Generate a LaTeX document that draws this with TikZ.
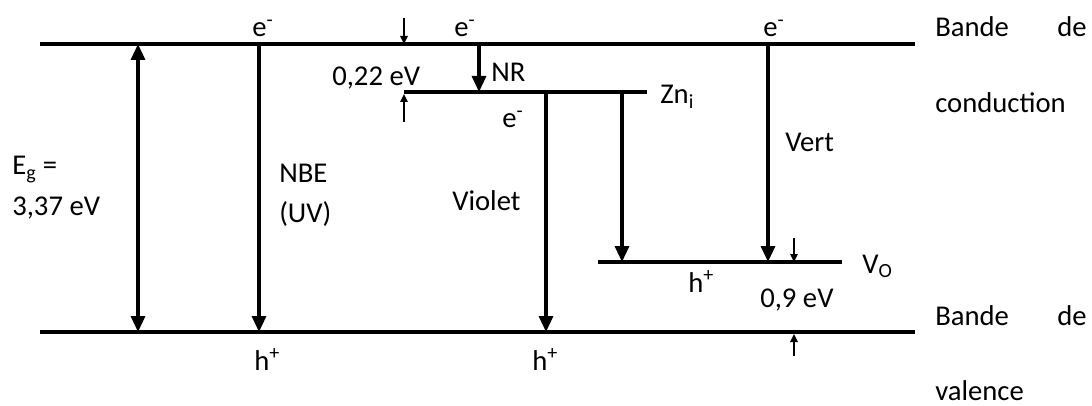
\documentclass[tikz,border=0pt]{standalone}
\usepackage{fontspec}
\setmainfont{Carlito}
\usetikzlibrary{arrows.meta,positioning}

\begin{document}
\begin{tikzpicture}[x=0.75pt,y=-0.75pt,
    band/.style={line width=2.4pt},
    trans/.style={line width=2.4pt,-{Triangle[length=12pt,width=10.5pt]}},
    gap/.style={line width=2.4pt,{Triangle[length=12pt,width=10.5pt]}-{Triangle[length=12pt,width=10.5pt]}},
    tick/.style={line width=1.5pt,-{Triangle[length=6pt,width=5.5pt]}},
    lbl/.style={inner sep=0pt,anchor=base west,font=\fontsize{21.5}{26}\selectfont}]
  \useasboundingbox (0,0) rectangle (1092,406);
  % bandes
  \coordinate (cbL) at (40,44);  \coordinate (cbR) at (915,44);
  \coordinate (vbL) at (40,332); \coordinate (vbR) at (915,332);
  \draw[band] (cbL) -- (cbR);
  \draw[band] (vbL) -- (vbR);
  % niveaux Zn_i et V_O
  \coordinate (znL) at (404,92);  \coordinate (znR) at (647,92);
  \coordinate (voL) at (598,262); \coordinate (voR) at (842,262);
  \draw[band] (znL) -- (znR);
  \draw[band] (voL) -- (voR);
  % transitions
  \coordinate (egT) at (138,44);  \coordinate (egB) at (egT |- vbL);
  \coordinate (nbeT) at (259,44); \coordinate (nbeB) at (nbeT |- vbL);
  \coordinate (nrT) at (479,44);  \coordinate (nrB) at (nrT |- znL);
  \coordinate (viT) at (546,92);  \coordinate (viB) at (viT |- vbL);
  \coordinate (zvT) at (622,92);  \coordinate (zvB) at (zvT |- voL);
  \coordinate (veT) at (768,44);  \coordinate (veB) at (veT |- voL);
  \draw[gap] (egT) -- (egB);
  \draw[trans] (nbeT) -- (nbeB);
  \draw[trans] (nrT) -- (nrB);
  \draw[trans] (viT) -- (viB);
  \draw[trans] (zvT) -- (zvB);
  \draw[trans] (veT) -- (veB);
  % petites fleches
  \coordinate (a1) at (404,18);  \coordinate (a1e) at (a1 |- cbL);
  \coordinate (a2) at (404,122); \coordinate (a2e) at (404,94);
  \coordinate (b1) at (794,238); \coordinate (b1e) at (b1 |- voL);
  \coordinate (b2) at (794,356); \coordinate (b2e) at (794,334);
  \draw[tick] (a1) -- (a1e);
  \draw[tick] (a2) -- (a2e);
  \draw[tick] (b1) -- (b1e);
  \draw[tick] (b2) -- (b2e);
  % textes
  \node[lbl] (e1) at (252,37) {e\textsuperscript{-}};
  \node[lbl] (e2) at (454,37) {e\textsuperscript{-}};
  \node[lbl] (e3) at (763,37) {e\textsuperscript{-}};
  \node[lbl] (e4) at (502,128) {e\textsuperscript{-}};
  \node[lbl] (h1) at (254,370) {h\textsuperscript{+}};
  \node[lbl] (h2) at (532,370) {h\textsuperscript{+}};
  \node[lbl] (h3) at (688,292) {h\textsuperscript{+}};
  \node[lbl] (ev22) at (332,86) {0,22 eV};
  \node[lbl] (nr) at (491,82) {NR};
  \node[lbl] (zn) at (660,104) {Zn\textsubscript{i}};
  \node[lbl] (vo) at (862,273) {V\textsubscript{O}};
  \node[lbl] (ev9) at (760,307) {0,9 eV};
  \node[lbl] (eg1) at (12,175) {E\textsubscript{g} =};
  \node[lbl] (eg2) at (12,215) {3,37 eV};
  \node[lbl] (nbe1) at (279,182) {NBE};
  \node[lbl] (nbe2) at (279,222) {(UV)};
  \node[lbl] (vi) at (452,210) {Violet};
  \node[lbl] (vert) at (785,152) {Vert};
  \node[lbl] (bc1) at (935,37) {Bande};
  \node[lbl] (bc2) at (1057,37) {de};
  \node[lbl] (bc3) at (935,113) {conduction};
  \node[lbl] (bv1) at (935,325) {Bande};
  \node[lbl] (bv2) at (1057,325) {de};
  \node[lbl] (bv3) at (935,400) {valence};
\end{tikzpicture}
\end{document}
